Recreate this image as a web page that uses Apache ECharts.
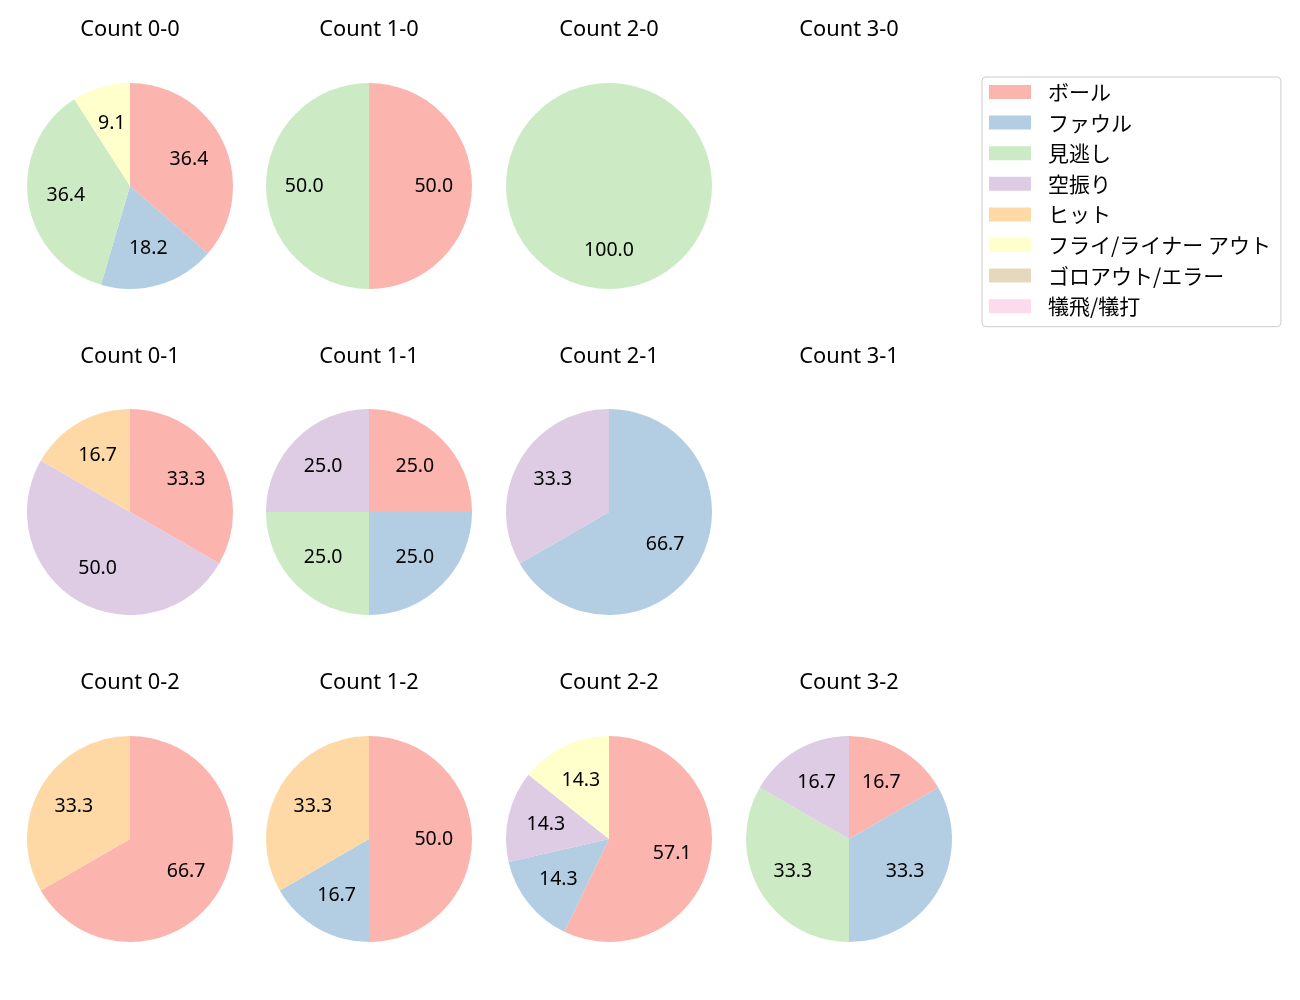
<!DOCTYPE html>
<html>
<head>
<meta charset="utf-8">
<script src="https://cdn.jsdelivr.net/npm/echarts@6/dist/echarts.min.js"></script>
<style>
html,body{margin:0;padding:0;background:#fff;}
#chart{width:1300px;height:1000px;}
</style>
</head>
<body>
<div id="chart"></div>
<script>
// Categories (pitch outcomes)
const categories = ['ボール','ファウル','見逃し','空振り','ヒット','フライ/ライナー アウト','ゴロアウト/エラー','犠飛/犠打'];
const colors = ['#fbb4ae','#b3cde3','#ccebc5','#decbe4','#fed9a6','#ffffcc','#e5d8bd','#fddaec'];

// Counts per ball-strike situation, in category order
const count_0_0 = [4,2,4,0,0,1,0,0];
const count_1_0 = [1,0,1,0,0,0,0,0];
const count_2_0 = [0,0,1,0,0,0,0,0];
const count_3_0 = [0,0,0,0,0,0,0,0];
const count_0_1 = [2,0,0,3,1,0,0,0];
const count_1_1 = [1,1,1,1,0,0,0,0];
const count_2_1 = [0,2,0,1,0,0,0,0];
const count_3_1 = [0,0,0,0,0,0,0,0];
const count_0_2 = [2,0,0,0,1,0,0,0];
const count_1_2 = [3,1,0,0,2,0,0,0];
const count_2_2 = [4,1,0,1,0,1,0,0];
const count_3_2 = [1,2,2,1,0,0,0,0];

const panelTitles = ['Count 0-0','Count 1-0','Count 2-0','Count 3-0',
                     'Count 0-1','Count 1-1','Count 2-1','Count 3-1',
                     'Count 0-2','Count 1-2','Count 2-2','Count 3-2'];
const panelData = [count_0_0,count_1_0,count_2_0,count_3_0,
                   count_0_1,count_1_1,count_2_1,count_3_1,
                   count_0_2,count_1_2,count_2_2,count_3_2];

// Layout
const colX = [130, 369, 609, 849];
const rowY = [186, 512, 839];
const titleY = [29, 356, 682];
const R = 103;
const LATIN = "'Noto Sans', 'Noto Sans CJK JP', sans-serif";
const CJK = "'Noto Sans CJK JP', 'Noto Sans', sans-serif";

const chart = echarts.init(document.getElementById('chart'), null, {renderer:'canvas'});

const titles = [];
const series = [];
panelData.forEach((vals, i) => {
  const c = i % 4, r = Math.floor(i / 4);
  const cx = colX[c], cy = rowY[r];
  titles.push({
    text: panelTitles[i],
    left: cx, top: titleY[r] - 10,
    padding: 0,
    textAlign: 'center',
    textStyle: {fontFamily: LATIN, fontSize: 21.8, lineHeight: 22, fontWeight: 'normal', color: '#000'}
  });
  const total = vals.reduce((a,b)=>a+b,0);
  if (total === 0) return;
  series.push({
    type: 'pie',
    center: [cx, cy],
    radius: [0, R],
    startAngle: 90,
    clockwise: true,
    silent: true,
    animation: false,
    label: {show: false},
    labelLine: {show: false},
    itemStyle: {borderWidth: 0},
    emphasis: {disabled: true},
    data: categories.map((name, k) => ({name, value: vals[k], itemStyle: {color: colors[k], borderWidth: 0}}))
  });
  // transparent label layer so labels sit at 0.6 R
  series.push({
    type: 'pie',
    center: [cx, cy],
    radius: [0, R * 1.2],
    startAngle: 90,
    clockwise: true,
    silent: true,
    animation: false,
    legendHoverLink: false,
    label: {
      show: true, position: 'inside',
      fontFamily: LATIN, fontSize: 19.5, color: '#000',
      formatter: p => (p.value / total * 100).toFixed(1)
    },
    labelLine: {show: false},
    itemStyle: {color: 'rgba(0,0,0,0)', borderWidth: 0},
    emphasis: {disabled: true},
    data: categories.map((name, k) => ({name: name + '#', value: vals[k]})).filter(d => d.value > 0)
  });
});

chart.setOption({
  backgroundColor: '#fff',
  animation: false,
  title: titles,
  legend: {
    orient: 'vertical',
    left: 982, top: 77,
    padding: [4.5, 10, 10, 7],
    itemWidth: 42, itemHeight: 14,
    itemGap: 9.6,
    icon: 'rect',
    borderColor: '#cccccc', borderWidth: 1, borderRadius: 4,
    backgroundColor: '#fff',
    selectedMode: false,
    data: categories,
    textStyle: {fontFamily: CJK, fontSize: 21, color: '#000', lineHeight: 21, padding: [0,0,0,12]}
  },
  series
});
</script>
</body>
</html>
